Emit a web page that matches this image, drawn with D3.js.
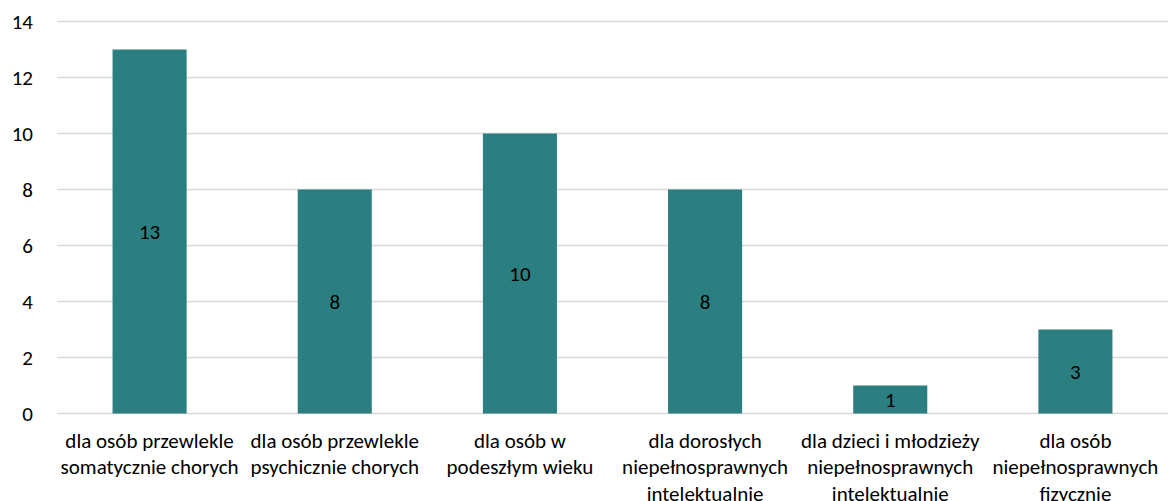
<!DOCTYPE html>
<html>
<head>
<meta charset="utf-8">
<script src="https://cdn.jsdelivr.net/npm/d3@7"></script>
<style>
  body { margin: 0; background: #fff; }
  text { font-family: Carlito, Calibri, Lato, sans-serif; fill: #000; }
</style>
</head>
<body>
<svg id="chart" width="1168" height="501"></svg>
<script>
// Categories (each entry split into label lines)
const categories = [
    ['dla osób przewlekle', 'somatycznie chorych'],
    ['dla osób przewlekle', 'psychicznie chorych'],
    ['dla osób w', 'podeszłym wieku'],
    ['dla dorosłych', 'niepełnosprawnych', 'intelektualnie'],
    ['dla dzieci i młodzieży', 'niepełnosprawnych', 'intelektualnie'],
    ['dla osób', 'niepełnosprawnych', 'fizycznie']
];
const values = [13, 8, 10, 8, 1, 3];
const yTicks = [0, 2, 4, 6, 8, 10, 12, 14];

const svg = d3.select('#chart');
const margin = { top: 21.5, right: 0, bottom: 87.5, left: 57 };
const width = +svg.attr('width') - margin.left - margin.right;
const height = +svg.attr('height') - margin.top - margin.bottom;
const fontSize = '21px';

const g = svg.append('g').attr('transform', `translate(${margin.left},${margin.top})`);

const x = d3.scaleBand().domain(d3.range(categories.length)).range([0, width]).paddingInner(0.6).paddingOuter(0.3);
const y = d3.scaleLinear().domain([0, 14]).range([height, 0]);

// Gridlines
g.selectAll('.grid')
    .data(yTicks)
    .enter()
    .append('line')
    .attr('x1', 0)
    .attr('x2', width)
    .attr('y1', d => y(d))
    .attr('y2', d => y(d))
    .attr('stroke', '#d9d9d9')
    .attr('stroke-width', 1.3);

// Y axis labels
g.selectAll('.ytick')
    .data(yTicks)
    .enter()
    .append('text')
    .attr('x', -24)
    .attr('y', d => y(d))
    .attr('dy', '0.35em')
    .attr('text-anchor', 'end')
    .style('font-size', fontSize)
    .text(d => d);

// Bars
g.selectAll('.bar')
    .data(values)
    .enter()
    .append('rect')
    .attr('x', (d, i) => x(i))
    .attr('y', d => y(d))
    .attr('width', x.bandwidth())
    .attr('height', d => height - y(d))
    .attr('fill', '#2b7f80');

// Value labels
g.selectAll('.val')
    .data(values)
    .enter()
    .append('text')
    .attr('x', (d, i) => x(i) + x.bandwidth() / 2)
    .attr('y', d => (y(d) + height) / 2)
    .attr('dy', '0.35em')
    .attr('text-anchor', 'middle')
    .style('font-size', fontSize)
    .text(d => d);

// Category labels
const step = width / categories.length;
categories.forEach((lines, i) => {
    const t = g.append('text')
        .attr('x', step * i + step / 2)
        .attr('y', height + 34)
        .attr('text-anchor', 'middle')
        .style('font-size', fontSize);
    lines.forEach((line, j) => {
        t.append('tspan')
            .attr('x', step * i + step / 2)
            .attr('dy', j === 0 ? 0 : 26.5)
            .text(line);
    });
});
</script>
</body>
</html>
